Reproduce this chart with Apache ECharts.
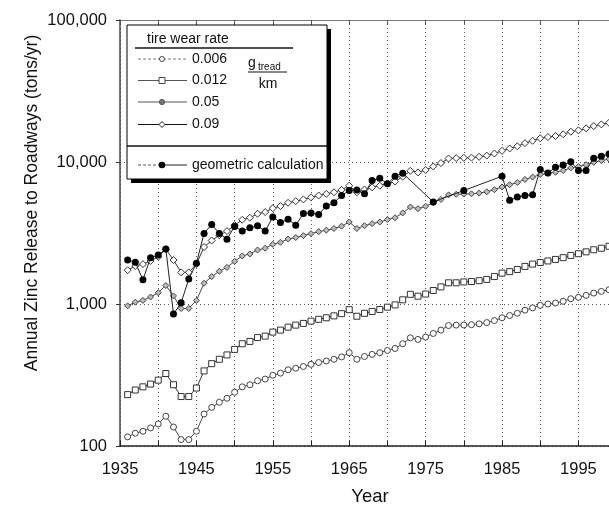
<!DOCTYPE html>
<html><head><meta charset="utf-8">
<script src="https://cdn.jsdelivr.net/npm/echarts@6/dist/echarts.min.js"></script>
<style>html,body{margin:0;padding:0;background:#fff}#c{width:609px;height:511px}</style>
</head><body><div id="c"></div>
<script>
const years = [1936,1937,1938,1939,1940,1941,1942,1943,1944,1945,1946,1947,1948,1949,1950,1951,1952,1953,1954,1955,1956,1957,1958,1959,1960,1961,1962,1963,1964,1965,1966,1967,1968,1969,1970,1971,1972,1973,1974,1975,1976,1977,1978,1979,1980,1981,1982,1983,1984,1985,1986,1987,1988,1989,1990,1991,1992,1993,1994,1995,1996,1997,1998,1999];
const rate006 = [116,123,127,134,143,162,136,111,111,127,168,187,203,217,239,261,270,288,296,315,326,344,353,363,376,387,397,408,424,454,408,427,442,454,471,486,525,578,563,585,620,655,705,710,712,715,725,740,765,800,830,860,905,940,979,1000,1016,1045,1089,1114,1150,1194,1227,1259];
const rate012 = [230,248,261,273,291,324,270,223,223,256,338,380,408,438,479,525,545,580,594,634,655,687,710,730,757,780,800,825,855,912,820,860,886,915,950,985,1070,1170,1135,1175,1245,1320,1410,1410,1430,1440,1460,1490,1560,1650,1690,1750,1840,1910,1960,2010,2060,2120,2200,2260,2330,2410,2470,2550];
const rate05 = [970,1030,1060,1120,1200,1350,1140,930,930,1060,1400,1560,1700,1810,2000,2180,2250,2400,2470,2630,2720,2870,2940,3030,3130,3230,3310,3400,3530,3780,3400,3560,3680,3780,3930,4050,4380,4820,4690,4880,5170,5450,5870,5920,5950,5970,6040,6170,6380,6670,6920,7170,7540,7830,8160,8330,8470,8710,9080,9280,9580,9950,10230,10490];
const rate09 = [1730,1850,1910,2010,2150,2430,2040,1670,1670,1910,2520,2800,3050,3260,3590,3920,4050,4320,4440,4730,4890,5160,5300,5450,5640,5810,5960,6120,6360,6810,6120,6400,6630,6810,7070,7290,7880,8670,8450,8780,9300,9830,10580,10650,10700,10730,10880,11100,11480,12000,12450,12900,13580,14100,14690,15000,15240,15680,16340,16710,17250,17910,18400,18890];
const geoYears = [1936,1937,1938,1939,1940,1941,1942,1943,1944,1945,1946,1947,1948,1949,1950,1951,1952,1953,1954,1955,1956,1957,1958,1959,1960,1961,1962,1963,1964,1965,1966,1967,1968,1969,1970,1971,1972,1976,1980,1985,1986,1987,1988,1989,1990,1991,1992,1993,1994,1995,1996,1997,1998,1999];
const geoValues = [2040,1970,1480,2120,2210,2440,850,1020,1500,1940,3140,3630,3140,2860,3520,3260,3440,3550,3260,4100,3750,3950,3590,4330,4380,4260,4900,5170,5810,6300,6350,5980,7400,7690,7020,7940,8340,5230,6300,7940,5370,5660,5810,5880,8840,8380,9180,9530,10050,8700,8700,10610,10970,11370];
const xTickLabels = [1935,1945,1955,1965,1975,1985,1995];
const yTickLabels = ['100','1,000','10,000','100,000'];

const FONT = 'Liberation Sans, Arial, Helvetica, sans-serif';
const chart = echarts.init(document.getElementById('c'), null, {renderer:'canvas'});

function pairs(xs, ys){ return xs.map((x,i)=>[x, ys[i]]); }

const gridDot = {type:[1,3], color:'#555', width:1};

const legendLeft = 138, legendRight = 187, markX = 162, textX = 192;
const rowY = [59, 80.5, 102, 124.5];

const graphics = [
  {type:'rect', shape:{x:131,y:29,width:200,height:154}, style:{fill:'#000'}, z:100},
  {type:'rect', shape:{x:127,y:25,width:200,height:154}, style:{fill:'#fff', stroke:'#000', lineWidth:1}, z:101},
  {type:'text', x:147, y:39, style:{text:'tire wear rate', font:'14px '+FONT, fill:'#111', textVerticalAlign:'middle'}, z:102},
  {type:'line', shape:{x1:135,y1:48,x2:293,y2:48}, style:{stroke:'#111', lineWidth:1.5}, z:102},
  {type:'line', shape:{x1:127,y1:146,x2:327,y2:146}, style:{stroke:'#111', lineWidth:1.5}, z:102},
  // row lines
  {type:'line', shape:{x1:legendLeft,y1:rowY[0],x2:legendRight,y2:rowY[0]}, style:{stroke:'#777', lineWidth:1, lineDash:[3,2]}, z:102},
  {type:'line', shape:{x1:legendLeft,y1:rowY[1],x2:legendRight,y2:rowY[1]}, style:{stroke:'#555', lineWidth:1.2}, z:102},
  {type:'line', shape:{x1:legendLeft,y1:rowY[2],x2:legendRight,y2:rowY[2]}, style:{stroke:'#555', lineWidth:1.2}, z:102},
  {type:'line', shape:{x1:legendLeft,y1:rowY[3],x2:legendRight,y2:rowY[3]}, style:{stroke:'#111', lineWidth:1.2}, z:102},
  {type:'line', shape:{x1:legendLeft,y1:165,x2:markX,y2:165}, style:{stroke:'#555', lineWidth:1, lineDash:[3,2]}, z:102},
  {type:'line', shape:{x1:markX,y1:165,x2:legendRight,y2:165}, style:{stroke:'#222', lineWidth:1}, z:102},
  // row markers
  {type:'circle', shape:{cx:markX, cy:rowY[0], r:2.5}, style:{fill:'#fff', stroke:'#444', lineWidth:1}, z:103},
  {type:'rect', shape:{x:markX-3, y:rowY[1]-3, width:6, height:6}, style:{fill:'#fff', stroke:'#444', lineWidth:1}, z:103},
  {type:'circle', shape:{cx:markX, cy:rowY[2], r:2.6}, style:{fill:'#777', stroke:'#555', lineWidth:1}, z:103},
  {type:'polygon', shape:{points:[[markX,rowY[3]-3],[markX+3,rowY[3]],[markX,rowY[3]+3],[markX-3,rowY[3]]]}, style:{fill:'#fff', stroke:'#222', lineWidth:1}, z:103},
  {type:'circle', shape:{cx:markX, cy:165, r:3.3}, style:{fill:'#000'}, z:103},
  // row texts
  {type:'text', x:textX, y:rowY[0], style:{text:'0.006', font:'14px '+FONT, fill:'#111', textVerticalAlign:'middle'}, z:102},
  {type:'text', x:textX, y:rowY[1], style:{text:'0.012', font:'14px '+FONT, fill:'#111', textVerticalAlign:'middle'}, z:102},
  {type:'text', x:textX, y:rowY[2], style:{text:'0.05', font:'14px '+FONT, fill:'#111', textVerticalAlign:'middle'}, z:102},
  {type:'text', x:textX, y:rowY[3], style:{text:'0.09', font:'14px '+FONT, fill:'#111', textVerticalAlign:'middle'}, z:102},
  {type:'text', x:textX, y:165, style:{text:'geometric calculation', font:'14px '+FONT, fill:'#111', textVerticalAlign:'middle'}, z:102},
  // units
  {type:'text', x:248, y:63, style:{text:'g', font:'14px '+FONT, fill:'#111', textVerticalAlign:'middle'}, z:102},
  {type:'text', x:258, y:67.5, style:{text:'tread', font:'10px '+FONT, fill:'#111', textVerticalAlign:'middle'}, z:102},
  {type:'line', shape:{x1:248,y1:72,x2:287,y2:72}, style:{stroke:'#111', lineWidth:1.2}, z:102},
  {type:'text', x:268, y:84, style:{text:'km', font:'14px '+FONT, fill:'#111', textAlign:'center', textVerticalAlign:'middle'}, z:102},
  // y axis title
  {type:'text', x:32, y:203, rotation:Math.PI/2, style:{text:'Annual Zinc Release to Roadways (tons/yr)', font:'17.5px '+FONT, fill:'#111', textAlign:'center', textVerticalAlign:'middle'}, z:102}
];

const option = {
  animation:false,
  backgroundColor:'#fff',
  grid:{left:120, right:0, top:20, bottom:62, containLabel:false},
  xAxis:[{
    type:'value', min:1935, max:1999, interval:5, position:'bottom',
    axisLine:{show:true, lineStyle:{color:'#222', width:1.5}},
    axisTick:{show:true, inside:true, length:5, lineStyle:{color:'#222'}},
    axisLabel:{margin:15, fontSize:16.5, color:'#111', fontFamily:FONT, showMaxLabel:false,
      formatter:function(v){ return xTickLabels.indexOf(v) >= 0 ? String(v) : ''; }},
    splitLine:{show:true, lineStyle:gridDot},
    name:'Year', nameLocation:'middle', nameGap:41,
    nameTextStyle:{fontSize:18.5, color:'#111', fontFamily:FONT, padding:[0,0,0,11]}
  },{
    type:'value', min:1935, max:1999, interval:5, position:'top',
    axisLine:{show:true, lineStyle:{color:'#777', width:1}},
    axisTick:{show:true, inside:true, length:4, lineStyle:{color:'#555'}},
    axisLabel:{show:false}, splitLine:{show:false}
  }],
  yAxis:{
    type:'log', logBase:10, min:100, max:100000,
    axisLine:{show:true, lineStyle:{color:'#444', width:1.5}},
    axisTick:{show:true, inside:false, length:4, lineStyle:{color:'#333'}},
    axisLabel:{margin:13, fontSize:16.5, color:'#111', fontFamily:FONT,
      formatter:function(v){ const i=[100,1000,10000,100000].indexOf(Math.round(v)); return i>=0 ? yTickLabels[i] : ''; }},
    splitLine:{show:true, lineStyle:gridDot}
  },
  series:[
    {type:'line', name:'0.006', data:pairs(years, rate006), symbol:'circle', symbolSize:6,
      itemStyle:{color:'#fff', borderColor:'#444', borderWidth:1}, lineStyle:{color:'#444', width:1}, silent:true, z:3},
    {type:'line', name:'0.012', data:pairs(years, rate012), symbol:'rect', symbolSize:6,
      itemStyle:{color:'#fff', borderColor:'#333', borderWidth:1}, lineStyle:{color:'#333', width:1}, silent:true, z:3},
    {type:'line', name:'0.05', data:pairs(years, rate05), symbol:'diamond', symbolSize:6,
      itemStyle:{color:'#bbb', borderColor:'#444', borderWidth:1}, lineStyle:{color:'#444', width:1}, silent:true, z:3},
    {type:'line', name:'0.09', data:pairs(years, rate09), symbol:'diamond', symbolSize:7,
      itemStyle:{color:'#fff', borderColor:'#333', borderWidth:1}, lineStyle:{color:'#333', width:1}, silent:true, z:3},
    {type:'line', name:'geometric calculation', data:pairs(geoYears, geoValues), symbol:'circle', symbolSize:7,
      itemStyle:{color:'#000', borderColor:'#000', borderWidth:0}, lineStyle:{color:'#222', width:1}, silent:true, z:4}
  ],
  graphic:graphics
};
chart.setOption(option);
</script>
</body></html>
